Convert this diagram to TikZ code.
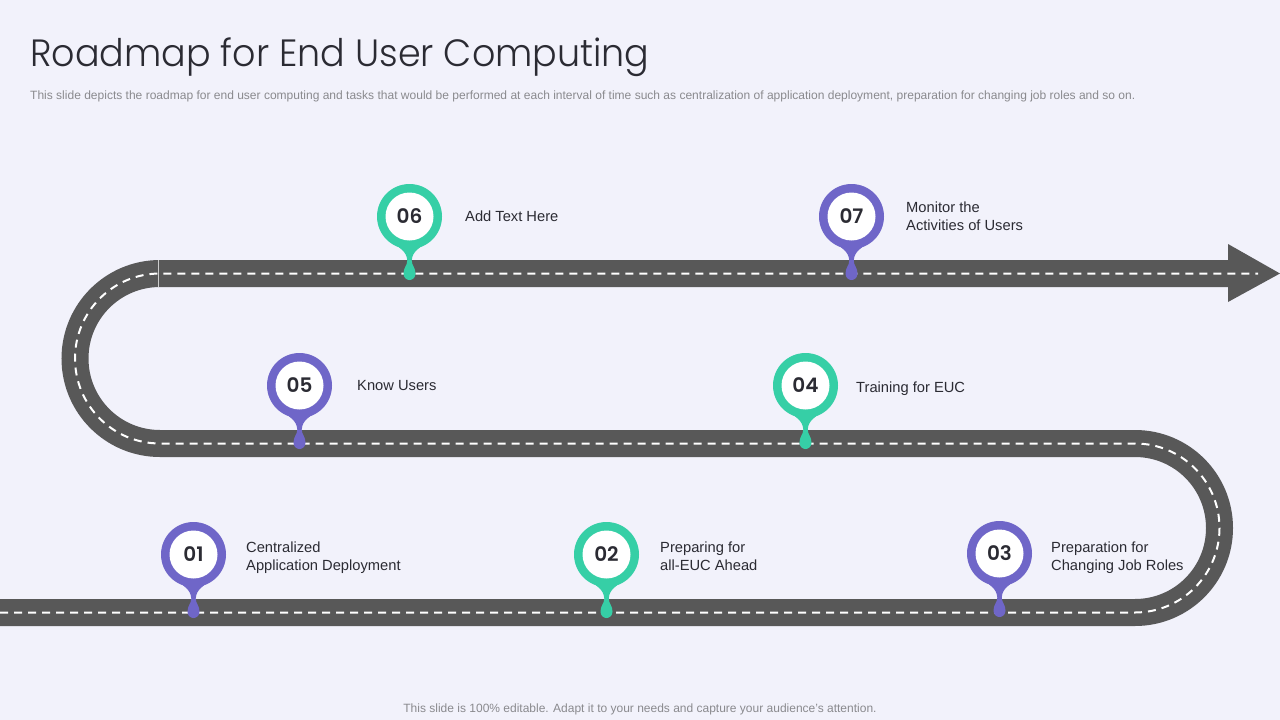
\documentclass[tikz,border=0pt]{standalone}
\usepackage{fontspec}
\setmainfont{Liberation Sans}
\newfontfamily\titlef{Poppins Light}
\newfontfamily\numf{Poppins SemiBold}
\definecolor{bgc}{HTML}{F2F2FB}
\definecolor{roadc}{HTML}{585858}
\definecolor{grn}{HTML}{36CFA6}
\definecolor{prp}{HTML}{6F66C8}
\definecolor{inkc}{HTML}{2B2B33}
\definecolor{greyc}{HTML}{8A8A8E}
\tikzset{
  roadbed/.style={draw=roadc,line width=27pt},
  roadline/.style={draw=white,line width=2pt,dash pattern=on 8pt off 6pt},
  lbl/.style={anchor=west,align=left,text=inkc,font=\fontsize{14.7}{18}\selectfont,inner sep=0pt},
  num/.style={text=inkc,font=\numf\fontsize{20}{20}\selectfont,inner sep=0pt},
}
\newcommand{\pinmark}[5]{%
  \fill[#4] (#2+0.5,#3+0.5) circle (32.5);
  \fill[#4,shift={(#2+0.5,#3+0.5)}] (-22,22) .. controls (-10,32) and (-3,34) .. (-2.2,44)
     .. controls (-2.2,49) and (-6,51) .. (-6,57)
     .. controls (-6,61) and (-3.2,63.5) .. (0,63.5)
     .. controls (3.2,63.5) and (6,61) .. (6,57)
     .. controls (6,51) and (2.2,49) .. (2.2,44)
     .. controls (3,34) and (10,32) .. (22,22) -- cycle;
  \fill[white] (#2+0.5,#3+0.5) circle (24);
  \node[num] (#1) at (#2+0.5,#3+0.5) {#5};
}
\newcommand{\roadpath}{(r0) -- (r1) .. controls (1181.7,612.5) and (1219.5,574.7) .. (1219.5,528) .. controls (1219.5,481.3) and (1181.7,443.5) .. (r2) -- (r3)
   .. controls (113,443.5) and (75,405.5) .. (75,358.5) .. controls (75,311.5) and (113,273.5) .. (r4)}
\begin{document}
\begin{tikzpicture}[x=1pt,y=-1pt]
\useasboundingbox (0,0) rectangle (1280,720);
\fill[bgc] (0,0) rectangle (1280,720);
\node[anchor=west,inner sep=0pt,text=inkc] (title) at (30,57) {\scalebox{0.96}[1]{\titlef\fontsize{38}{40}\selectfont Roadmap for End User Computing}};
\node[anchor=west,inner sep=0pt,text=greyc] (sub) at (30,96.5) {\fontsize{12.02}{14}\selectfont This slide depicts the roadmap for end user computing and tasks that would be performed at each interval of time such as centralization of application deployment, preparation for changing job roles and so on.};
\node[inner sep=0pt,text=greyc] (foot) at (640,709) {\fontsize{12}{14}\selectfont This slide is 100\% editable. Adapt it to your needs and capture your audience's attention.};
% road
\coordinate (r0) at (0,612.5);
\coordinate (r1) at (1135,612.5);
\coordinate (r2) at (1135,443.5);
\coordinate (r3) at (160,443.5);
\coordinate (r4) at (160,273.5);
\coordinate (r5) at (1230,273.5);
\coordinate (r6) at (1258,273.5);
\draw[roadbed] \roadpath -- (r5);
\fill[roadc] (1228,244) -- (1280,273.5) -- (1228,302) -- cycle;
\draw[roadline] \roadpath -- (r6);
\draw[line width=0.6pt,draw=white!70!roadc] (158,260) -- (158,287);
% pins
\pinmark{p1}{193}{554}{prp}{01}
\pinmark{p2}{606}{554}{grn}{02}
\pinmark{p3}{999}{553}{prp}{03}
\pinmark{p4}{805}{385}{grn}{04}
\pinmark{p5}{299}{385}{prp}{05}
\pinmark{p6}{409}{216}{grn}{06}
\pinmark{p7}{851}{216}{prp}{07}
% labels
\node[lbl] (l1) at (246,558) {Centralized\\Application Deployment};
\node[lbl] (l2) at (660,556) {Preparing for\\all-EUC Ahead};
\node[lbl] (l3) at (1051,558) {Preparation for\\Changing Job Roles};
\node[lbl] (l4) at (856,389) {Training for EUC};
\node[lbl] (l5) at (357,385.5) {Know Users};
\node[lbl] (l6) at (465,216) {Add Text Here};
\node[lbl] (l7) at (906,216) {Monitor the\\Activities of Users};
\end{tikzpicture}
\end{document}
